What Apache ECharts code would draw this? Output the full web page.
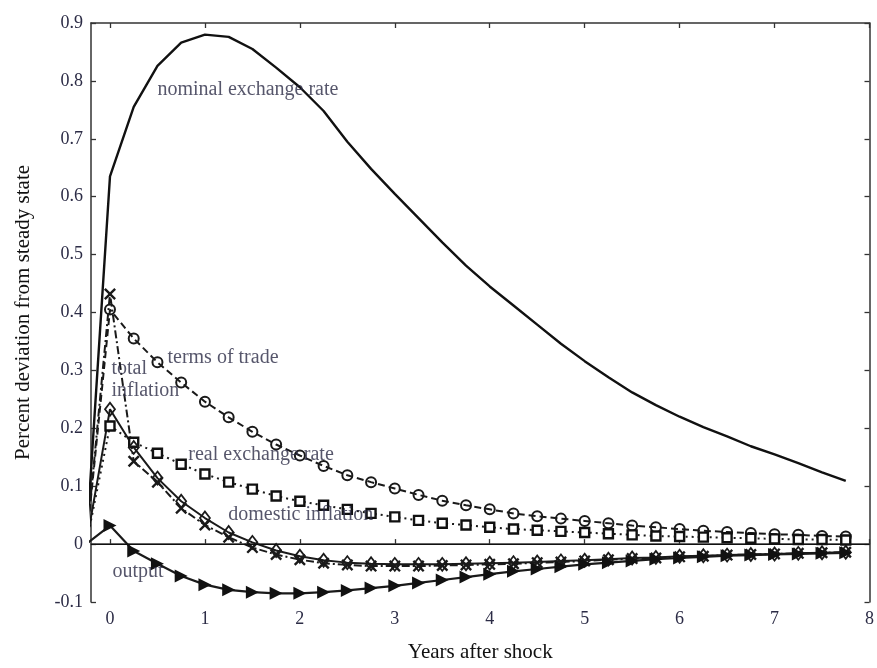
<!DOCTYPE html>
<html><head><meta charset="utf-8">
<script src="https://cdn.jsdelivr.net/npm/echarts@6/dist/echarts.min.js"></script>
<style>html,body{margin:0;padding:0;background:#fff}#c{width:877px;height:668px}</style>
</head><body><div id="c"></div>
<script>
const years = [-0.25,0,0.25,0.5,0.75,1,1.25,1.5,1.75,2,2.25,2.5,2.75,3,3.25,3.5,3.75,4,4.25,4.5,4.75,5,5.25,5.5,5.75,6,6.25,6.5,6.75,7,7.25,7.5,7.75];
const nominalExchangeRate = [0,0.635,0.755,0.826,0.866,0.880,0.876,0.855,0.823,0.789,0.748,0.695,0.648,0.605,0.563,0.521,0.481,0.445,0.412,0.379,0.346,0.316,0.288,0.262,0.240,0.220,0.202,0.186,0.169,0.155,0.140,0.124,0.109];
const termsOfTrade = [0,0.405,0.355,0.314,0.279,0.246,0.219,0.194,0.172,0.153,0.135,0.119,0.107,0.096,0.085,0.075,0.067,0.060,0.053,0.048,0.044,0.040,0.036,0.032,0.029,0.026,0.023,0.021,0.019,0.017,0.016,0.014,0.013];
const realExchangeRate = [0,0.204,0.176,0.157,0.138,0.121,0.107,0.095,0.083,0.074,0.067,0.060,0.053,0.047,0.041,0.036,0.033,0.029,0.026,0.024,0.022,0.020,0.018,0.016,0.014,0.013,0.012,0.011,0.010,0.009,0.008,0.008,0.007];
const totalInflation = [0,0.432,0.143,0.107,0.062,0.033,0.012,-0.006,-0.018,-0.027,-0.033,-0.036,-0.038,-0.038,-0.038,-0.037,-0.036,-0.035,-0.034,-0.032,-0.031,-0.029,-0.027,-0.025,-0.024,-0.022,-0.021,-0.019,-0.018,-0.017,-0.016,-0.015,-0.014];
const domesticInflation = [0,0.233,0.167,0.114,0.074,0.045,0.020,0.003,-0.011,-0.021,-0.028,-0.032,-0.034,-0.035,-0.035,-0.035,-0.034,-0.033,-0.032,-0.031,-0.029,-0.028,-0.026,-0.024,-0.023,-0.021,-0.020,-0.019,-0.018,-0.017,-0.016,-0.015,-0.014];
const output = [0,0.032,-0.012,-0.034,-0.055,-0.070,-0.079,-0.083,-0.085,-0.085,-0.083,-0.080,-0.076,-0.072,-0.067,-0.062,-0.057,-0.052,-0.047,-0.043,-0.039,-0.035,-0.032,-0.029,-0.026,-0.024,-0.022,-0.020,-0.019,-0.018,-0.017,-0.016,-0.015];
const xTicks = [0,1,2,3,4,5,6,7,8];
const annotations = [
  [0.494, 0.784, 'nominal exchange rate'],
  [0.60, 0.322, 'terms of trade'],
  [0.01, 0.302, 'total'],
  [0.01, 0.264, 'inflation'],
  [0.82, 0.155, 'real exchange rate'],
  [1.24, 0.050, 'domestic inflation'],
  [0.02, -0.048, 'output']
];

const FONT = '"Liberation Serif", "Times New Roman", serif';
const TXT = '#2c2c46';
const pair = arr => years.map((x, i) => [x, arr[i]]);
const XSYM = 'path://M0,1.4 L1.4,0 L5,3.6 L8.6,0 L10,1.4 L6.4,5 L10,8.6 L8.6,10 L5,6.4 L1.4,10 L0,8.6 L3.6,5 Z';
const TRI = 'path://M0,0 L10,5 L0,10 Z';

function lineSeries(name, arr, opts) {
  return Object.assign({
    name, type: 'line', data: pair(arr), xAxisIndex: 0, yAxisIndex: 0,
    clip: true, animation: false, showAllSymbol: true, z: 3
  }, opts);
}

const axisLineStyle = { color: '#333', width: 1.5 };
const chart = echarts.init(document.getElementById('c'), null, { renderer: 'canvas' });
chart.setOption({
  animation: false,
  backgroundColor: '#fff',
  grid: { left: 91, right: 5, top: 23, bottom: 64, containLabel: false },
  xAxis: [
    { type: 'value', position: 'bottom', min: -0.2, max: 8,
      name: 'Years after shock', nameLocation: 'middle', nameGap: 40,
      nameTextStyle: { fontFamily: FONT, fontSize: 21, color: '#111' },
      axisLine: { show: true, lineStyle: axisLineStyle },
      axisTick: { show: true, inside: true, length: 5, customValues: xTicks, lineStyle: { color: '#333', width: 1.3 } },
      axisLabel: { show: true, customValues: xTicks, fontFamily: FONT, fontSize: 18, color: TXT, margin: 8 },
      splitLine: { show: false } },
    { type: 'value', position: 'top', min: -0.2, max: 8,
      axisLine: { show: true, onZero: false, lineStyle: axisLineStyle },
      axisTick: { show: true, inside: true, length: 5, customValues: xTicks, lineStyle: { color: '#333', width: 1.3 } },
      axisLabel: { show: false }, splitLine: { show: false } }
  ],
  yAxis: [
    { type: 'value', position: 'left', min: -0.1, max: 0.9, interval: 0.1,
      name: 'Percent deviation from steady state', nameLocation: 'middle', nameGap: 57,
      nameTextStyle: { fontFamily: FONT, fontSize: 21, color: '#111' },
      axisLine: { show: true, onZero: false, lineStyle: axisLineStyle },
      axisTick: { show: true, inside: true, length: 5, lineStyle: { color: '#333', width: 1.3 } },
      axisLabel: { fontFamily: FONT, fontSize: 18, color: TXT, margin: 8,
        formatter: v => String(Math.round(v * 10) / 10) },
      splitLine: { show: false } },
    { type: 'value', position: 'right', min: -0.1, max: 0.9, interval: 0.1,
      axisLine: { show: true, onZero: false, lineStyle: axisLineStyle },
      axisTick: { show: true, inside: true, length: 5, lineStyle: { color: '#333', width: 1.3 } },
      axisLabel: { show: false }, splitLine: { show: false } }
  ],
  series: [
    lineSeries('nominal exchange rate', nominalExchangeRate, {
      symbol: 'none', lineStyle: { color: '#111', width: 2.4 },
      markLine: { silent: true, symbol: ['none', 'none'], label: { show: false },
        lineStyle: { color: '#111', width: 1.2, type: 'solid' }, data: [{ yAxis: 0 }], animation: false }
    }),
    lineSeries('terms of trade', termsOfTrade, {
      symbol: 'circle', symbolSize: 10,
      itemStyle: { color: 'rgba(0,0,0,0)', borderColor: '#1a1a1a', borderWidth: 2 },
      lineStyle: { color: '#1a1a1a', width: 2, type: [7, 4] }
    }),
    lineSeries('real exchange rate', realExchangeRate, {
      symbol: 'rect', symbolSize: 9,
      itemStyle: { color: '#fff', borderColor: '#111', borderWidth: 2.4 },
      lineStyle: { color: '#1a1a1a', width: 2, type: [2, 4] }
    }),
    lineSeries('total inflation', totalInflation, {
      symbol: XSYM, symbolSize: 12,
      itemStyle: { color: '#1a1a1a' },
      lineStyle: { color: '#1a1a1a', width: 2, type: [8, 3, 2, 3] }
    }),
    lineSeries('domestic inflation', domesticInflation, {
      symbol: 'diamond', symbolSize: [10, 13],
      itemStyle: { color: 'rgba(0,0,0,0)', borderColor: '#1a1a1a', borderWidth: 1.8 },
      lineStyle: { color: '#1a1a1a', width: 2 }
    }),
    lineSeries('output', output, {
      symbol: TRI, symbolSize: 13,
      itemStyle: { color: '#111' },
      lineStyle: { color: '#1a1a1a', width: 2.2 }
    }),
    { type: 'scatter', name: 'labels', data: annotations.map(a => [a[0], a[1], a[2]]),
      symbolSize: 1, itemStyle: { color: 'rgba(0,0,0,0)' }, silent: true, z: 5, animation: false,
      label: { show: true, position: 'right', distance: 0, formatter: p => p.value[2],
        fontFamily: FONT, fontSize: 20, color: TXT, align: 'left', verticalAlign: 'middle' } }
  ]
});
</script></body></html>
